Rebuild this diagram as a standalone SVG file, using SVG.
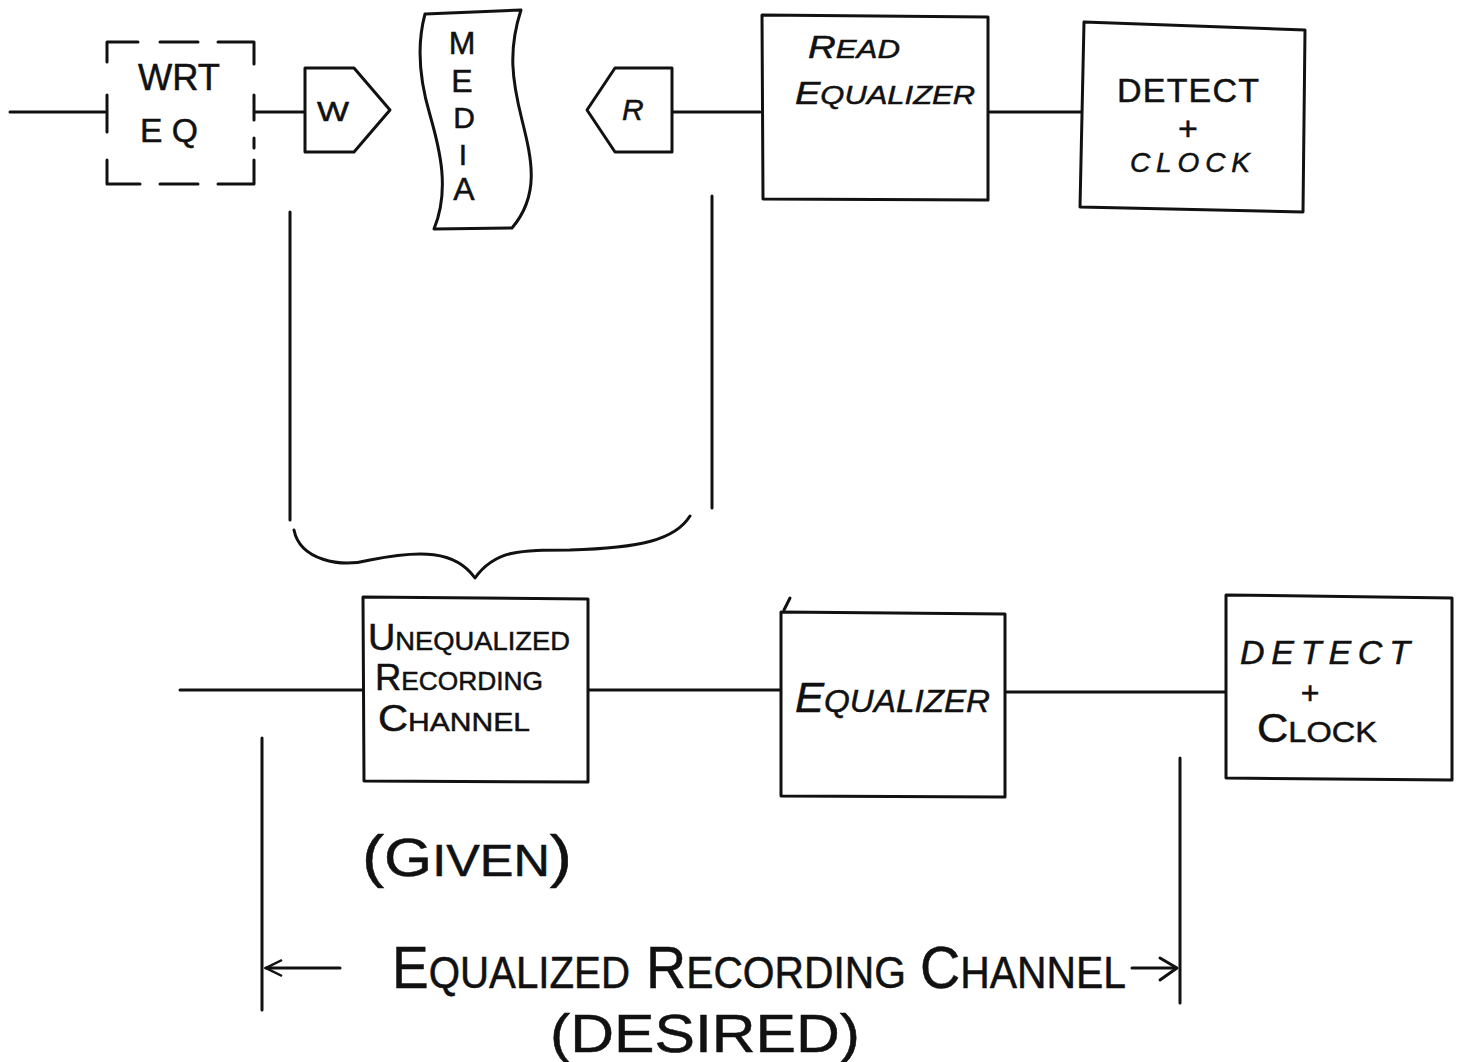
<svg xmlns="http://www.w3.org/2000/svg" width="1463" height="1062" viewBox="0 0 1463 1062">
<style>
.s{fill:none;stroke:#111;stroke-width:3;stroke-linecap:round;stroke-linejoin:round}
.b{fill:#fff;stroke:#111;stroke-width:3;stroke-linejoin:round}
text{font-family:"Liberation Sans","DejaVu Sans",sans-serif;fill:#111;stroke:#111;stroke-width:0.5}
</style>
<defs>
<marker id="ah" viewBox="0 0 20 20" refX="2" refY="10" markerWidth="20" markerHeight="20" markerUnits="userSpaceOnUse" orient="auto">
<path d="M18 2 L2 10 L18 18" fill="none" stroke="#111" stroke-width="2.5"/>
</marker>
</defs>
<rect width="1463" height="1062" fill="#fff"/>

<g id="connectors">
<path class="s" d="M10 112 H105"/>
<path class="s" d="M255 112 H305"/>
<path class="s" d="M672 112 H760"/>
<path class="s" d="M988 112 H1082"/>
<path class="s" d="M180 690 H363"/>
<path class="s" d="M588 690 H780"/>
<path class="s" d="M1005 692 H1226"/>
</g>

<g id="wrt-eq">
<path class="s" d="M107 62 V42 H138 M160 42 H198 M218 42 H254 V64 M107 95 V132 M107 160 V184 H140 M160 184 H198 M218 184 H254 V160 M254 95 V120 M254 138 V148"/>
<text x="138" y="90" font-size="36" textLength="82" lengthAdjust="spacingAndGlyphs">WRT</text>
<text x="140" y="142" font-size="34" textLength="58" lengthAdjust="spacingAndGlyphs">E Q</text>
</g>

<g id="w-head">
<path class="b" d="M305 68 H354 L390 110 L354 152 H305 Z"/>
<text x="317" y="121" font-size="27" textLength="32" lengthAdjust="spacingAndGlyphs">W</text>
</g>

<g id="media">
<path class="b" d="M425 14 L521 10 C508 50 512 80 522 120 C532 160 540 195 512 228 L434 229 C450 190 440 150 430 115 C418 75 418 40 425 14 Z"/>
<text x="462" y="54" font-size="32" text-anchor="middle">M</text>
<text x="462" y="92" font-size="32" text-anchor="middle">E</text>
<text x="464" y="128" font-size="30" text-anchor="middle">D</text>
<text x="463" y="165" font-size="30" text-anchor="middle">I</text>
<text x="464" y="200" font-size="32" text-anchor="middle">A</text>
</g>

<g id="r-head">
<path class="b" d="M587 110 L615 68 H672 V152 H615 Z"/>
<text x="622" y="120" font-size="30" font-style="italic">R</text>
</g>

<g id="read-eq">
<path class="b" d="M762 15 L988 17 V200 L763 199 Z"/>
<text x="808" y="58" font-size="26" font-style="italic" textLength="92" lengthAdjust="spacingAndGlyphs"><tspan font-size="32">R</tspan>EAD</text>
<text x="795" y="104" font-size="26" font-style="italic" textLength="180" lengthAdjust="spacingAndGlyphs"><tspan font-size="32">E</tspan>QUALIZER</text>
</g>

<g id="detect-top">
<path class="b" d="M1084 22 L1305 30 L1303 212 L1080 207 Z"/>
<text x="1117" y="102" font-size="34" textLength="142">DETECT</text>
<text x="1188" y="140" font-size="34" text-anchor="middle">+</text>
<text x="1130" y="172" font-size="28" font-style="italic" textLength="120">CLOCK</text>
</g>

<g id="brace">
<path class="s" d="M290 212 V520"/>
<path class="s" d="M712 196 V508"/>
<path class="s" d="M294 530 C300 560 340 568 370 560 C420 550 455 550 475 578 C495 550 520 550 570 550 C640 548 675 540 690 516" stroke-width="4"/>
</g>

<g id="unequalized">
<path class="b" d="M363 597 L588 599 V782 L364 781 Z"/>
<text x="368" y="650" font-size="26" textLength="202" lengthAdjust="spacingAndGlyphs"><tspan font-size="36">U</tspan>NEQUALIZED</text>
<text x="375" y="690" font-size="26" textLength="168" lengthAdjust="spacingAndGlyphs"><tspan font-size="36">R</tspan>ECORDING</text>
<text x="378" y="731" font-size="26" textLength="152" lengthAdjust="spacingAndGlyphs"><tspan font-size="36">C</tspan>HANNEL</text>
</g>

<g id="equalizer">
<path class="s" d="M790 598 L784 610"/>
<path class="b" d="M781 612 L1005 614 V797 L781 796 Z"/>
<text x="795" y="712" font-size="32" font-style="italic" textLength="195" lengthAdjust="spacingAndGlyphs"><tspan font-size="42">E</tspan>QUALIZER</text>
</g>

<g id="detect-bottom">
<path class="b" d="M1226 595 L1452 598 V780 L1226 778 Z"/>
<text x="1240" y="664" font-size="34" font-style="italic" textLength="170">DETECT</text>
<text x="1310" y="704" font-size="32" text-anchor="middle">+</text>
<text x="1257" y="742" font-size="30" textLength="120" lengthAdjust="spacingAndGlyphs"><tspan font-size="40">C</tspan>LOCK</text>
</g>

<g id="given">
<text x="362" y="876" font-size="44" textLength="210" lengthAdjust="spacingAndGlyphs"><tspan font-size="58">(</tspan><tspan font-size="54">G</tspan>IVEN<tspan font-size="58">)</tspan></text>
</g>

<g id="desired-span">
<path class="s" d="M262 738 V1010"/>
<path class="s" d="M1180 758 V1003"/>
<path class="s" d="M266 968 H340" marker-start="url(#ah)"/>
<path class="s" d="M1132 968 H1176"/>
<path class="s" d="M1160 958 L1177 968 L1160 980"/>
<text x="392" y="988" font-size="44" textLength="238" lengthAdjust="spacingAndGlyphs"><tspan font-size="60">E</tspan>QUALIZED</text>
<text x="646" y="988" font-size="44" textLength="260" lengthAdjust="spacingAndGlyphs"><tspan font-size="60">R</tspan>ECORDING</text>
<text x="920" y="988" font-size="44" textLength="206" lengthAdjust="spacingAndGlyphs"><tspan font-size="60">C</tspan>HANNEL</text>
<text x="550" y="1052" font-size="54" textLength="310" lengthAdjust="spacingAndGlyphs">(DESIRED)</text>
</g>
</svg>
